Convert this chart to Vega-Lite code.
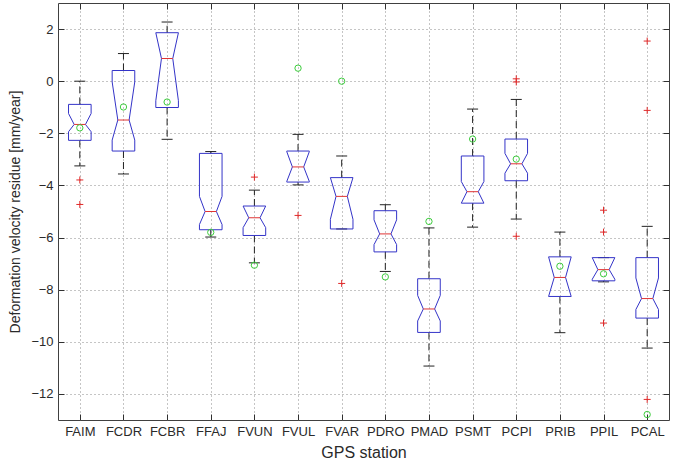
{
  "$schema": "https://vega.github.io/schema/vega-lite/v6.json",
  "width": 611,
  "height": 417,
  "autosize": {"type": "none"},
  "padding": {"left": 58, "top": 3, "right": 9, "bottom": 43},
  "background": "white",
  "config": {
    "view": {"stroke": "#404040", "strokeWidth": 1},
    "font": "Liberation Sans",
    "axis": {
      "labelFont": "Liberation Sans",
      "titleFont": "Liberation Sans",
      "labelFontSize": 13,
      "titleFontSize": 14,
      "titleFontWeight": "normal",
      "labelColor": "#2a2a2a",
      "titleColor": "#2a2a2a",
      "domainColor": "#404040",
      "tickColor": "#303030",
      "ticks": true,
      "gridColor": "#8a8a8a",
      "gridDash": [1, 3],
      "gridWidth": 1
    }
  },
  "datasets": {
    "boxes": [
      {"station": "FAIM", "whi": 0.0, "q3": -0.89, "nhi": -1.24, "med": -1.66, "nlo": -1.94, "q1": -2.27, "wlo": -3.25, "mean": -1.79},
      {"station": "FCDR", "whi": 1.06, "q3": 0.41, "nhi": -0.03, "med": -1.49, "nlo": -2.26, "q1": -2.68, "wlo": -3.56, "mean": -0.99},
      {"station": "FCBR", "whi": 2.27, "q3": 1.86, "nhi": 1.86, "med": 0.87, "nlo": -0.75, "q1": -1.01, "wlo": -2.23, "mean": -0.8},
      {"station": "FFAJ", "whi": -2.7, "q3": -2.77, "nhi": -4.42, "med": -5.0, "nlo": -5.5, "q1": -5.7, "wlo": -5.98, "mean": -5.8},
      {"station": "FVUN", "whi": -4.18, "q3": -4.79, "nhi": -4.79, "med": -5.24, "nlo": -5.62, "q1": -5.92, "wlo": -6.97, "mean": -7.06},
      {"station": "FVUL", "whi": -2.04, "q3": -2.68, "nhi": -2.7, "med": -3.29, "nlo": -3.85, "q1": -3.87, "wlo": -3.98, "mean": 0.5},
      {"station": "FVAR", "whi": -2.87, "q3": -3.7, "nhi": -3.7, "med": -4.42, "nlo": -5.3, "q1": -5.67, "wlo": -5.67, "mean": 0.0},
      {"station": "PDRO", "whi": -4.74, "q3": -4.97, "nhi": -5.32, "med": -5.86, "nlo": -6.27, "q1": -6.55, "wlo": -7.3, "mean": -7.51},
      {"station": "PMAD", "whi": -5.63, "q3": -7.58, "nhi": -8.22, "med": -8.74, "nlo": -9.2, "q1": -9.64, "wlo": -10.93, "mean": -5.38},
      {"station": "PSMT", "whi": -1.07, "q3": -2.87, "nhi": -3.85, "med": -4.24, "nlo": -4.68, "q1": -4.68, "wlo": -5.6, "mean": -2.22},
      {"station": "PCPI", "whi": -0.7, "q3": -2.22, "nhi": -2.77, "med": -3.17, "nlo": -3.53, "q1": -3.82, "wlo": -5.29, "mean": -2.99},
      {"station": "PRIB", "whi": -5.79, "q3": -6.74, "nhi": -6.74, "med": -7.53, "nlo": -8.26, "q1": -8.26, "wlo": -9.65, "mean": -7.1},
      {"station": "PPIL", "whi": -6.77, "q3": -6.77, "nhi": -6.77, "med": -7.23, "nlo": -7.6, "q1": -7.66, "wlo": -7.7, "mean": -7.39},
      {"station": "PCAL", "whi": -5.57, "q3": -6.77, "nhi": -7.55, "med": -8.34, "nlo": -8.76, "q1": -9.09, "wlo": -10.24, "mean": -12.79}
    ],
    "outliers": [
      {"station": "FAIM", "v": -3.79},
      {"station": "FAIM", "v": -4.73},
      {"station": "FVUN", "v": -3.68},
      {"station": "FVUL", "v": -5.15},
      {"station": "FVAR", "v": -7.76},
      {"station": "PCPI", "v": 0.09},
      {"station": "PCPI", "v": -0.03},
      {"station": "PCPI", "v": -5.95},
      {"station": "PPIL", "v": -4.95},
      {"station": "PPIL", "v": -5.79},
      {"station": "PPIL", "v": -9.28},
      {"station": "PCAL", "v": 1.54},
      {"station": "PCAL", "v": -1.12},
      {"station": "PCAL", "v": -12.21}
    ]
  },
  "resolve": {"axis": {"x": "independent", "y": "independent"}},
  "layer": [
    {
      "data": {"name": "boxes"},
      "mark": {"type": "rule", "color": "#222222", "strokeDash": [7, 4], "strokeWidth": 1},
      "encoding": {
        "x": {"field": "station", "type": "nominal",
              "scale": {"type": "point", "padding": 0.5, "domain": ["FAIM","FCDR","FCBR","FFAJ","FVUN","FVUL","FVAR","PDRO","PMAD","PSMT","PCPI","PRIB","PPIL","PCAL"]},
              "axis": {"orient": "bottom", "title": "GPS station", "titleFontSize": 16, "labelAngle": 0, "grid": true, "ticks": true, "tickSize": -6, "labelPadding": 11, "titlePadding": 6, "domain": false}},
        "y": {"field": "q3", "type": "quantitative",
              "scale": {"domain": [-13, 3], "nice": false, "zero": false},
              "axis": {"orient": "left", "title": "Deformation velocity residue [mm/year]", "values": [-12, -10, -8, -6, -4, -2, 0, 2], "grid": true, "ticks": true, "tickSize": -6, "labelPadding": 11, "titlePadding": 8, "domain": false}},
        "y2": {"field": "whi"}
      }
    },
    {
      "data": {"name": "boxes"},
      "mark": {"type": "rule", "color": "#222222", "strokeDash": [7, 4], "strokeWidth": 1},
      "encoding": {
        "x": {"field": "station", "type": "nominal", "axis": null},
        "y": {"field": "q1", "type": "quantitative", "axis": null},
        "y2": {"field": "wlo"}
      }
    },
    {
      "data": {"name": "boxes"},
      "mark": {"type": "rule", "color": "#222222", "strokeWidth": 1, "xOffset": -5.5, "x2Offset": 5.5},
      "encoding": {
        "x": {"field": "station", "type": "nominal", "axis": null},
        "x2": {"field": "station"},
        "y": {"field": "whi", "type": "quantitative", "axis": null}
      }
    },
    {
      "data": {"name": "boxes"},
      "mark": {"type": "rule", "color": "#222222", "strokeWidth": 1, "xOffset": -5.5, "x2Offset": 5.5},
      "encoding": {
        "x": {"field": "station", "type": "nominal", "axis": null},
        "x2": {"field": "station"},
        "y": {"field": "wlo", "type": "quantitative", "axis": null}
      }
    },
    {
      "data": {"name": "boxes"},
      "mark": {"type": "rule", "color": "#3434c8", "strokeWidth": 1, "xOffset": -11.3, "x2Offset": -11.3},
      "encoding": {
        "x": {"field": "station", "type": "nominal", "axis": null},
        "x2": {"field": "station"},
        "y": {"field": "q3", "type": "quantitative", "axis": null},
        "y2": {"field": "nhi"}
      }
    },
    {
      "data": {"name": "boxes"},
      "mark": {"type": "rule", "color": "#3434c8", "strokeWidth": 1, "xOffset": -11.3, "x2Offset": -5.65},
      "encoding": {
        "x": {"field": "station", "type": "nominal", "axis": null},
        "x2": {"field": "station"},
        "y": {"field": "nhi", "type": "quantitative", "axis": null},
        "y2": {"field": "med"}
      }
    },
    {
      "data": {"name": "boxes"},
      "mark": {"type": "rule", "color": "#3434c8", "strokeWidth": 1, "xOffset": -5.65, "x2Offset": -11.3},
      "encoding": {
        "x": {"field": "station", "type": "nominal", "axis": null},
        "x2": {"field": "station"},
        "y": {"field": "med", "type": "quantitative", "axis": null},
        "y2": {"field": "nlo"}
      }
    },
    {
      "data": {"name": "boxes"},
      "mark": {"type": "rule", "color": "#3434c8", "strokeWidth": 1, "xOffset": -11.3, "x2Offset": -11.3},
      "encoding": {
        "x": {"field": "station", "type": "nominal", "axis": null},
        "x2": {"field": "station"},
        "y": {"field": "nlo", "type": "quantitative", "axis": null},
        "y2": {"field": "q1"}
      }
    },
    {
      "data": {"name": "boxes"},
      "mark": {"type": "rule", "color": "#3434c8", "strokeWidth": 1, "xOffset": 11.3, "x2Offset": 11.3},
      "encoding": {
        "x": {"field": "station", "type": "nominal", "axis": null},
        "x2": {"field": "station"},
        "y": {"field": "q3", "type": "quantitative", "axis": null},
        "y2": {"field": "nhi"}
      }
    },
    {
      "data": {"name": "boxes"},
      "mark": {"type": "rule", "color": "#3434c8", "strokeWidth": 1, "xOffset": 11.3, "x2Offset": 5.65},
      "encoding": {
        "x": {"field": "station", "type": "nominal", "axis": null},
        "x2": {"field": "station"},
        "y": {"field": "nhi", "type": "quantitative", "axis": null},
        "y2": {"field": "med"}
      }
    },
    {
      "data": {"name": "boxes"},
      "mark": {"type": "rule", "color": "#3434c8", "strokeWidth": 1, "xOffset": 5.65, "x2Offset": 11.3},
      "encoding": {
        "x": {"field": "station", "type": "nominal", "axis": null},
        "x2": {"field": "station"},
        "y": {"field": "med", "type": "quantitative", "axis": null},
        "y2": {"field": "nlo"}
      }
    },
    {
      "data": {"name": "boxes"},
      "mark": {"type": "rule", "color": "#3434c8", "strokeWidth": 1, "xOffset": 11.3, "x2Offset": 11.3},
      "encoding": {
        "x": {"field": "station", "type": "nominal", "axis": null},
        "x2": {"field": "station"},
        "y": {"field": "nlo", "type": "quantitative", "axis": null},
        "y2": {"field": "q1"}
      }
    },
    {
      "data": {"name": "boxes"},
      "mark": {"type": "rule", "color": "#3434c8", "strokeWidth": 1, "xOffset": -11.3, "x2Offset": 11.3},
      "encoding": {
        "x": {"field": "station", "type": "nominal", "axis": null},
        "x2": {"field": "station"},
        "y": {"field": "q3", "type": "quantitative", "axis": null}
      }
    },
    {
      "data": {"name": "boxes"},
      "mark": {"type": "rule", "color": "#3434c8", "strokeWidth": 1, "xOffset": -11.3, "x2Offset": 11.3},
      "encoding": {
        "x": {"field": "station", "type": "nominal", "axis": null},
        "x2": {"field": "station"},
        "y": {"field": "q1", "type": "quantitative", "axis": null}
      }
    },
    {
      "data": {"name": "boxes"},
      "mark": {"type": "rule", "color": "#e03434", "strokeWidth": 1, "xOffset": -5.65, "x2Offset": 5.65},
      "encoding": {
        "x": {"field": "station", "type": "nominal", "axis": null},
        "x2": {"field": "station"},
        "y": {"field": "med", "type": "quantitative", "axis": null}
      }
    },
    {
      "data": {"name": "outliers"},
      "mark": {"type": "point", "shape": "M-1,0L1,0M0,-1L0,1", "filled": false, "stroke": "#e02828", "strokeWidth": 1, "size": 49, "opacity": 1},
      "encoding": {
        "x": {"field": "station", "type": "nominal", "axis": null},
        "y": {"field": "v", "type": "quantitative", "axis": null}
      }
    },
    {
      "data": {"name": "boxes"},
      "mark": {"type": "point", "shape": "circle", "filled": false, "stroke": "#3ccc3c", "strokeWidth": 1, "size": 40, "opacity": 1},
      "encoding": {
        "x": {"field": "station", "type": "nominal",
              "axis": {"orient": "top", "title": null, "labels": false, "grid": false, "ticks": true, "tickSize": -6, "domain": false}},
        "y": {"field": "mean", "type": "quantitative",
              "axis": {"orient": "right", "title": null, "labels": false, "grid": false, "ticks": true, "tickSize": -6, "domain": false, "values": [-12, -10, -8, -6, -4, -2, 0, 2]}}
      }
    }
  ]
}
